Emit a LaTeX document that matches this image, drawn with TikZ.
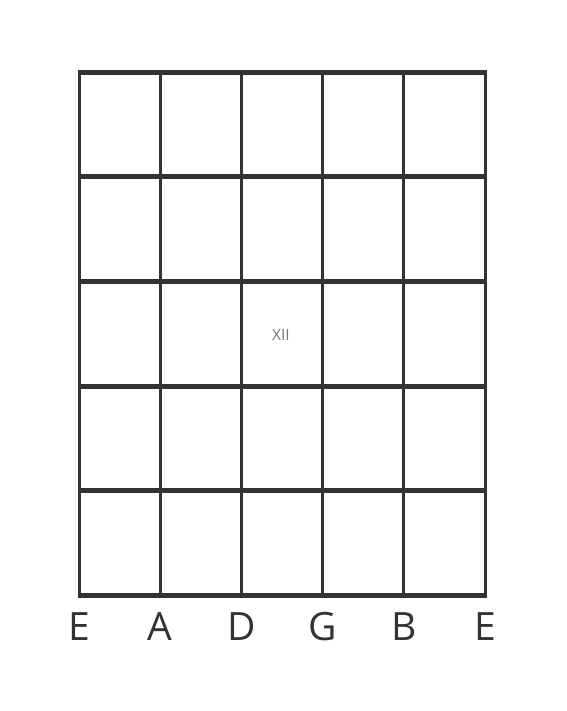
\documentclass[tikz,border=0pt]{standalone}
\usepackage{fontspec}
\setmainfont{Open Sans}
\definecolor{inkgray}{HTML}{333333}
\definecolor{markgray}{HTML}{777777}
\tikzset{fretline/.style={draw=inkgray, line width=5pt},
  stringline/.style={draw=inkgray, line width=3pt},
  stringname/.style={text=inkgray, font=\fontsize{39}{39}\selectfont, inner sep=0pt},
  fretmark/.style={text=markgray, font=\fontsize{15.5}{15.5}\selectfont, inner sep=0pt}}
\begin{document}
\begin{tikzpicture}[x=1pt, y=-1pt]
  \useasboundingbox (0,0) rectangle (566,711);
  % strings
  \foreach \s [count=\i from 0] in {E,A,D,G,B,E} {
    \coordinate (top\i) at (79+81.2*\i,72.5);
    \coordinate (bot\i) at (79+81.2*\i,595);
    \draw[stringline] (top\i) -- (bot\i);
    \node[stringname, anchor=center] (name\i) at (79+81.2*\i,627) {\s};
  }
  % frets
  \foreach \f in {0,...,5} {
    \coordinate (left\f) at (77.5,72.5+104.5*\f);
    \coordinate (right\f) at (486.5,72.5+104.5*\f);
    \draw[fretline] (left\f) -- (right\f);
  }
  \node[fretmark] (twelve) at (281,334.5) {XII};
\end{tikzpicture}
\end{document}
